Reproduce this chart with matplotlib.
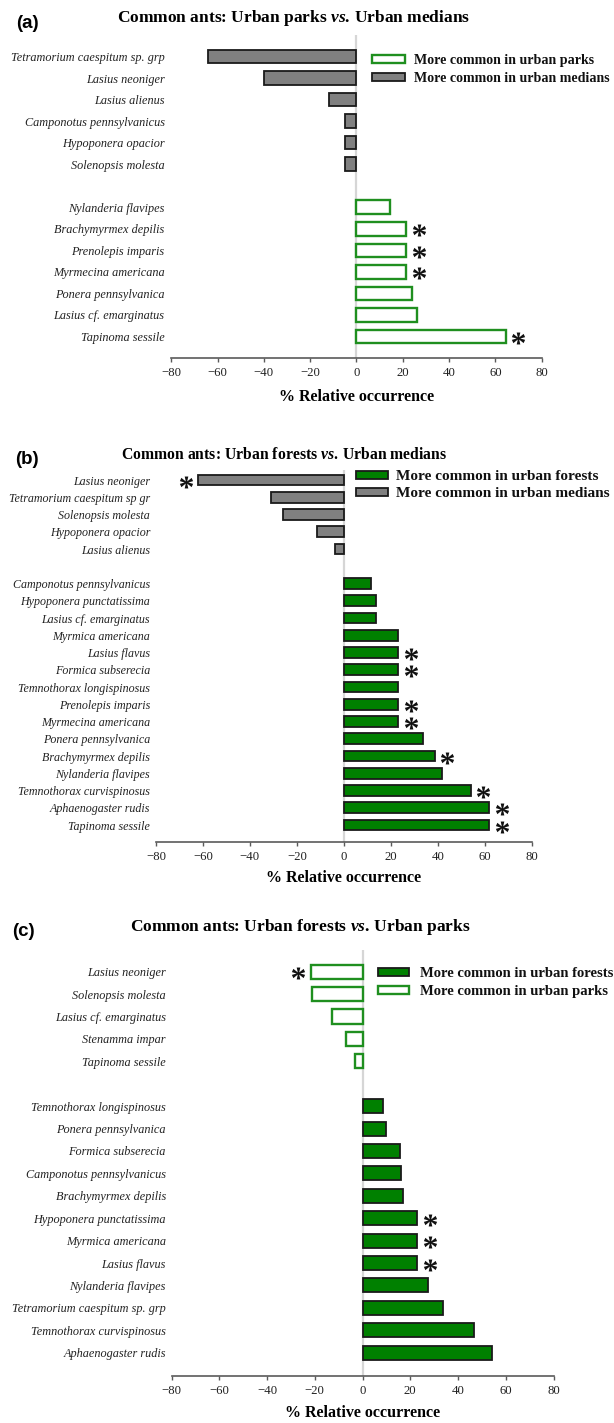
import matplotlib
matplotlib.use("Agg")
import matplotlib.pyplot as plt
from matplotlib.patches import Rectangle
from matplotlib.transforms import offset_copy

plt.rcParams['font.family'] = ['Liberation Serif', 'DejaVu Sans']
plt.rcParams['axes.unicode_minus'] = True
plt.rcParams['mathtext.fontset'] = 'custom'
plt.rcParams['mathtext.it'] = 'Liberation Serif:italic:bold'
plt.rcParams['mathtext.bf'] = 'Liberation Serif:bold'
plt.rcParams['mathtext.rm'] = 'Liberation Serif:bold'

# ---------------- data ----------------
# Panel (a): Urban parks vs. Urban medians
a_neg_species = ['Tetramorium caespitum sp. grp', 'Lasius neoniger', 'Lasius alienus',
                 'Camponotus pennsylvanicus', 'Hypoponera opacior', 'Solenopsis molesta']
a_neg_values = [-64, -40, -12, -5, -5, -5]
a_neg_sig = [False, False, False, False, False, False]
a_pos_species = ['Nylanderia flavipes', 'Brachymyrmex depilis', 'Prenolepis imparis',
                 'Myrmecina americana', 'Ponera pennsylvanica', 'Lasius cf. emarginatus',
                 'Tapinoma sessile']
a_pos_values = [14.5, 21.5, 21.5, 21.5, 24, 26, 64.5]
a_pos_sig = [False, True, True, True, False, False, True]

# Panel (b): Urban forests vs. Urban medians
b_neg_species = ['Lasius neoniger', 'Tetramorium caespitum sp gr', 'Solenopsis molesta',
                 'Hypoponera opacior', 'Lasius alienus']
b_neg_values = [-62, -31, -26, -11.5, -4]
b_neg_sig = [True, False, False, False, False]
b_pos_species = ['Camponotus pennsylvanicus', 'Hypoponera punctatissima', 'Lasius cf. emarginatus',
                 'Myrmica americana', 'Lasius flavus', 'Formica subserecia',
                 'Temnothorax longispinosus', 'Prenolepis imparis', 'Myrmecina americana',
                 'Ponera pennsylvanica', 'Brachymyrmex depilis', 'Nylanderia flavipes',
                 'Temnothorax curvispinosus', 'Aphaenogaster rudis', 'Tapinoma sessile']
b_pos_values = [11.7, 13.7, 13.7, 23.2, 23.2, 23.2, 23.2, 23.2, 23.2, 33.8, 38.7, 41.8, 54, 61.8, 61.8]
b_pos_sig = [False, False, False, False, True, True, False, True, True, False, True, False, True, True, True]

# Panel (c): Urban forests vs. Urban parks
c_neg_species = ['Lasius neoniger', 'Solenopsis molesta', 'Lasius cf. emarginatus',
                 'Stenamma impar', 'Tapinoma sessile']
c_neg_values = [-21.7, -21.2, -12.8, -6.9, -3]
c_neg_sig = [True, False, False, False, False]
c_pos_species = ['Temnothorax longispinosus', 'Ponera pennsylvanica', 'Formica subserecia',
                 'Camponotus pennsylvanicus', 'Brachymyrmex depilis', 'Hypoponera punctatissima',
                 'Myrmica americana', 'Lasius flavus', 'Nylanderia flavipes',
                 'Tetramorium caespitum sp. grp', 'Temnothorax curvispinosus', 'Aphaenogaster rudis']
c_pos_values = [8.7, 10, 15.8, 16.3, 17.1, 23, 23, 23, 27.6, 33.5, 46.6, 54.3]
c_pos_sig = [False, False, False, False, False, True, True, True, False, False, False, False]

x_ticks = [-80, -60, -40, -20, 0, 20, 40, 60, 80]

# ---------------- styles ----------------
GRAY = dict(facecolor='#808080', edgecolor='#1a1a1a', linewidth=1.3)
GREEN = dict(facecolor='#008000', edgecolor='#1a1a1a', linewidth=1.3)
OPEN = dict(facecolor='white', edgecolor='#1f8f1f', linewidth=1.7)

W, H = 614, 1423
fig = plt.figure(figsize=(W / 100, H / 100), dpi=100)
PX = 72 / 100  # points per pixel


def rect(l, t, r, b):
    return [l / W, 1 - b / H, (r - l) / W, (b - t) / H]


def panel(box, ylim, neg_sp, neg_v, neg_sig, pos_sp, pos_v, pos_sig, neg_style, pos_style,
          label_fs, label_pad):
    ax = fig.add_axes(rect(*box))
    n = len(neg_sp)
    neg_y = list(range(n))
    pos_y = [n + 1 + i for i in range(len(pos_sp))]
    ax.axvline(0, color='#d6d6d6', lw=1.6, zorder=0)
    h = 0.63
    ax.barh(neg_y, neg_v, height=h, zorder=2, **neg_style)
    ax.barh(pos_y, pos_v, height=h, zorder=2, **pos_style)
    for y, v, s in list(zip(neg_y, neg_v, neg_sig)) + list(zip(pos_y, pos_v, pos_sig)):
        if s:
            dx = 12.5 * PX if v > 0 else -12.5 * PX
            tr = offset_copy(ax.transData, fig=fig, x=dx, y=-1.5 * PX, units='points')
            ax.plot([v], [y], marker=r'$*$', markersize=9.5, markeredgewidth=0,
                    color='#111111', linestyle='none', transform=tr, zorder=3, clip_on=False)
    ax.set_xlim(-80, 80)
    ax.set_ylim(*ylim)
    ax.set_yticks(neg_y + pos_y)
    ax.set_yticklabels(neg_sp + pos_sp, fontstyle='italic', fontsize=label_fs, color='#222222')
    ax.tick_params(axis='y', length=0, pad=label_pad)
    ax.set_xticks(x_ticks)
    ax.tick_params(axis='x', direction='out', length=3, width=1.0, color='#5a5a5a',
                   labelsize=9.2, labelcolor='#222222', pad=3.5)
    for sp in ['top', 'right', 'left']:
        ax.spines[sp].set_visible(False)
    ax.spines['bottom'].set_color('#5a5a5a')
    ax.spines['bottom'].set_linewidth(1.2)
    ax.patch.set_alpha(0)
    return ax


def legend(entries, x, rows, w, hh, fs, text_gap):
    for (lab, style), y in zip(entries, rows):
        fig.add_artist(Rectangle((x / W, 1 - (y + hh / 2) / H), w / W, hh / H,
                                 transform=fig.transFigure, **style))
        fig.text((x + w + text_gap) / W, 1 - y / H, lab, fontsize=fs, fontweight='bold',
                 ha='left', va='center_baseline', color='#111111')


# ---- panel (a)
axa = panel((171.2, 35, 541.7, 358), (14, -1), a_neg_species, a_neg_values, a_neg_sig,
            a_pos_species, a_pos_values, a_pos_sig, GRAY, OPEN, 8.8, 4.8)
axa.annotate('% Relative occurrence', xy=(0.5, 0), xycoords='axes fraction',
             xytext=(0, -39 * PX), textcoords='offset points', ha='center', va='center',
             fontsize=11.5, fontweight='bold')
fig.text(294 / W, 1 - 18 / H, 'Common ants: Urban parks $\\it{vs.}\\,$Urban medians',
         fontsize=12.5, fontweight='bold', ha='center', va='center')
fig.text(27 / W, 1 - 24 / H, '(a)', fontsize=13.5, fontweight='bold',
         family='Liberation Sans', ha='center', va='center')
legend([('More common in urban parks', OPEN), ('More common in urban medians', GRAY)],
       372, [59.3, 76.7], 33, 7.7, 10.1, 8.6)

# ---- panel (b)
axb = panel((155.9, 469.65, 531.9, 842.25), (21, -0.6), b_neg_species, b_neg_values, b_neg_sig,
            b_pos_species, b_pos_values, b_pos_sig, GRAY, GREEN, 8.65, 4.2)
axb.annotate('% Relative occurrence', xy=(0.5, 0), xycoords='axes fraction',
             xytext=(0, -35.7 * PX), textcoords='offset points', ha='center', va='center',
             fontsize=11.5, fontweight='bold')
fig.text(284 / W, 1 - 455 / H, 'Common ants: Urban forests $\\it{vs.}\\,$Urban medians',
         fontsize=11.3, fontweight='bold', ha='center', va='center')
fig.text(27.4 / W, 1 - 460 / H, '(b)', fontsize=13.5, fontweight='bold',
         family='Liberation Sans', ha='center', va='center')
legend([('More common in urban forests', GREEN), ('More common in urban medians', GRAY)],
       355.7, [475, 492.3], 32, 7.7, 11.0, 8.0)

# ---- panel (c)
axc = panel((171.6, 950, 553.5, 1375.7), (18.03, -0.97), c_neg_species, c_neg_values, c_neg_sig,
            c_pos_species, c_pos_values, c_pos_sig, OPEN, GREEN, 8.8, 4.2)
axc.annotate('% Relative occurrence', xy=(0.5, 0), xycoords='axes fraction',
             xytext=(0, -37.3 * PX), textcoords='offset points', ha='center', va='center',
             fontsize=11.5, fontweight='bold')
fig.text(300.6 / W, 1 - 926.7 / H, 'Common ants: Urban forests $\\it{vs.}\\,$Urban parks',
         fontsize=12.5, fontweight='bold', ha='center', va='center')
fig.text(23.5 / W, 1 - 931.7 / H, '(c)', fontsize=13.5, fontweight='bold',
         family='Liberation Sans', ha='center', va='center')
legend([('More common in urban forests', GREEN), ('More common in urban parks', OPEN)],
       378, [971.7, 990], 31, 7.7, 10.5, 10.7)

fig.savefig('out.png', dpi=100)
